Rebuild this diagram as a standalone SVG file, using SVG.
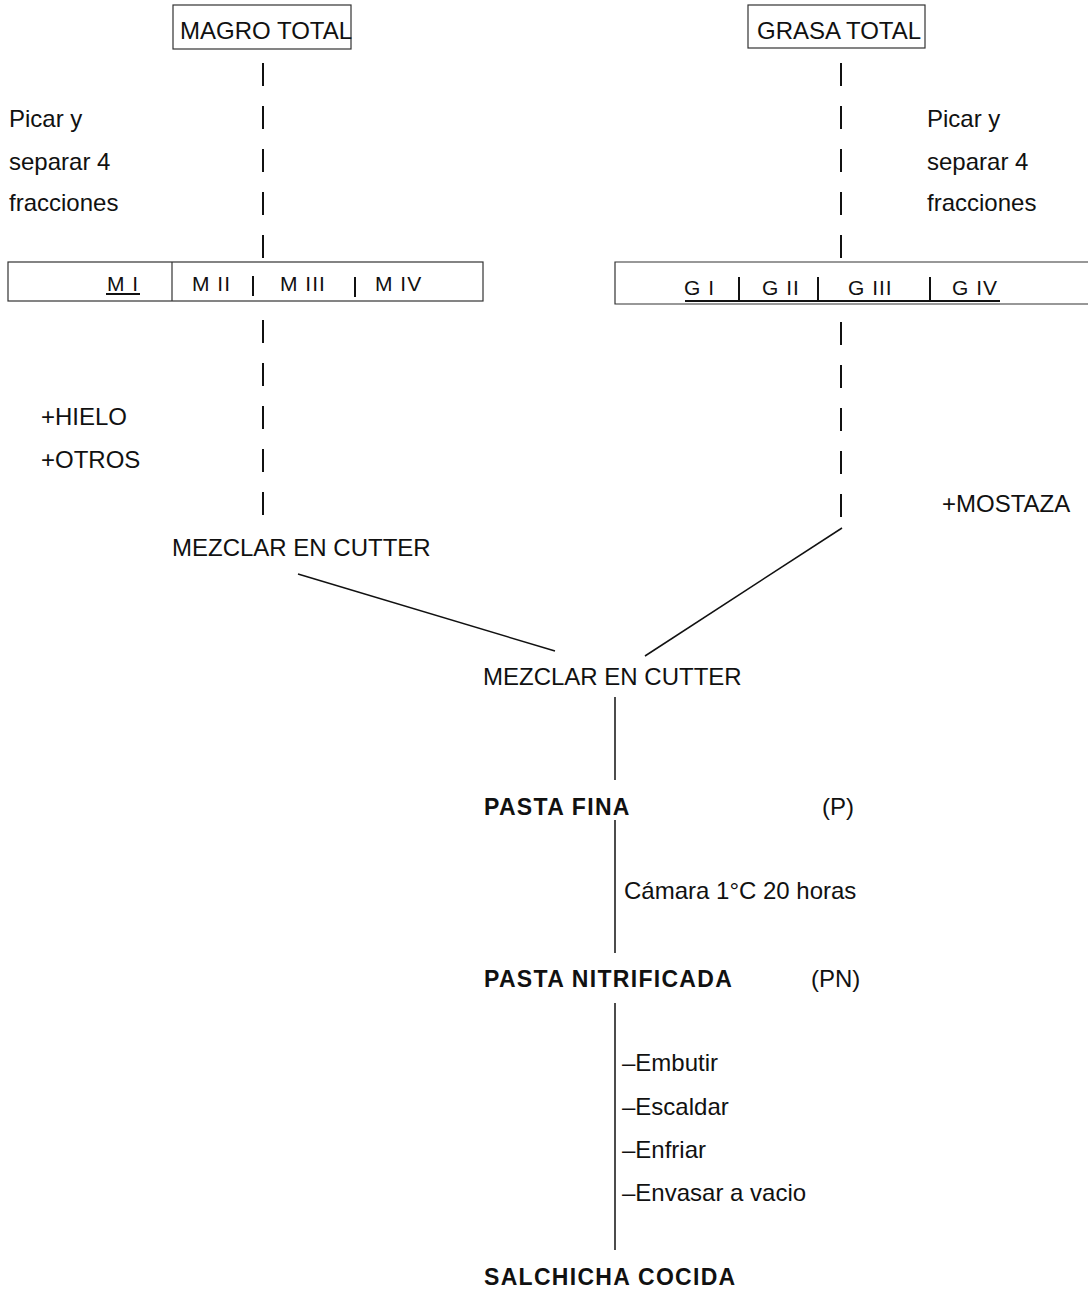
<svg xmlns="http://www.w3.org/2000/svg" width="1088" height="1293" viewBox="0 0 1088 1293">
<style>
text{font-family:"Liberation Sans",Arial,sans-serif;font-size:24px;fill:#111}
.b{font-weight:bold;font-size:23px;letter-spacing:1.3px}
.f{font-size:21px;letter-spacing:1px}
.box{fill:none;stroke:#333;stroke-width:1.2}
.dash{stroke:#111;stroke-width:2;stroke-dasharray:23 20;fill:none}
.ln{stroke:#111;stroke-width:1.5;fill:none}
.tk{stroke:#111;stroke-width:2}
</style>
<rect width="1088" height="1293" fill="#fff"/>
<g id="magro-total">
<rect class="box" x="173" y="5" width="178" height="44"/>
<text x="180" y="39">MAGRO TOTAL</text>
</g>
<g id="grasa-total">
<rect class="box" x="748" y="5" width="177" height="43"/>
<text x="757" y="39">GRASA TOTAL</text>
</g>
<g id="label-picar-left">
<text x="9" y="127">Picar y</text>
<text x="9" y="170">separar 4</text>
<text x="9" y="211">fracciones</text>
</g>
<g id="label-picar-right">
<text x="927" y="127">Picar y</text>
<text x="927" y="170">separar 4</text>
<text x="927" y="211">fracciones</text>
</g>
<g id="fracciones-magro">
<rect class="box" x="8" y="262" width="475" height="39"/>
<line class="box" x1="172" y1="262" x2="172" y2="301"/>
<text class="f" x="107" y="291">M I</text>
<line class="tk" x1="106" y1="294" x2="140" y2="294"/>
<text class="f" x="192" y="291">M II</text>
<line class="tk" x1="253" y1="276" x2="253" y2="296"/>
<text class="f" x="280" y="291">M III</text>
<line class="tk" x1="355" y1="277" x2="355" y2="297"/>
<text class="f" x="375" y="291">M IV</text>
</g>
<g id="fracciones-grasa">
<path class="box" d="M1090 262 H615 V304 H1090"/>
<text class="f" x="684" y="295">G I</text>
<text class="f" x="762" y="295">G II</text>
<text class="f" x="848" y="295">G III</text>
<text class="f" x="952" y="295">G IV</text>
<line class="tk" x1="685" y1="301" x2="1000" y2="301"/>
<line class="tk" x1="739" y1="277" x2="739" y2="301"/>
<line class="tk" x1="818" y1="277" x2="818" y2="301"/>
<line class="tk" x1="930" y1="277" x2="930" y2="301"/>
</g>
<g id="label-hielo">
<text x="41" y="425">+HIELO</text>
<text x="41" y="468">+OTROS</text>
</g>
<g id="label-mostaza">
<text x="942" y="512">+MOSTAZA</text>
</g>
<g id="mezclar-1">
<text x="172" y="556">MEZCLAR EN CUTTER</text>
</g>
<g id="mezclar-2">
<text x="483" y="685">MEZCLAR EN CUTTER</text>
</g>
<g id="pasta-fina">
<text class="b" x="484" y="815">PASTA FINA</text>
<text x="822" y="815">(P)</text>
</g>
<g id="label-camara">
<text x="624" y="899">Cámara 1°C 20 horas</text>
</g>
<g id="pasta-nitrificada">
<text class="b" x="484" y="987">PASTA NITRIFICADA</text>
<text x="811" y="987">(PN)</text>
</g>
<g id="label-pasos">
<text x="622" y="1071">–Embutir</text>
<text x="622" y="1115">–Escaldar</text>
<text x="622" y="1158">–Enfriar</text>
<text x="622" y="1201">–Envasar a vacio</text>
</g>
<g id="salchicha-cocida">
<text class="b" x="484" y="1285">SALCHICHA COCIDA</text>
</g>
<g id="connectors">
<line class="dash" x1="263" y1="63" x2="263" y2="258"/>
<line class="dash" x1="841" y1="63" x2="841" y2="258"/>
<line class="dash" x1="263" y1="320" x2="263" y2="515"/>
<line class="dash" x1="841" y1="322" x2="841" y2="517"/>
<line class="ln" x1="298" y1="574" x2="555" y2="651"/>
<line class="ln" x1="842" y1="528" x2="645" y2="656"/>
<line class="ln" x1="615" y1="697" x2="615" y2="780"/>
<line class="ln" x1="615" y1="820" x2="615" y2="953"/>
<line class="ln" x1="615" y1="1003" x2="615" y2="1250"/>
</g>
</svg>
